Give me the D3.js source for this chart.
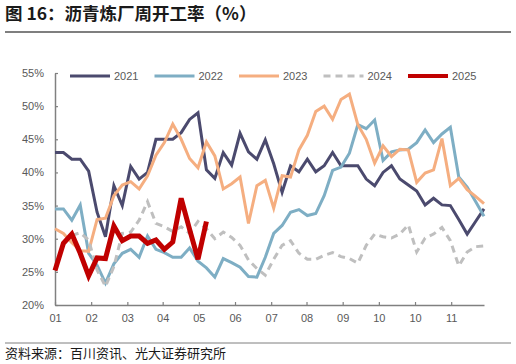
<!DOCTYPE html>
<html>
<head>
<meta charset="utf-8">
<script src="https://cdn.jsdelivr.net/npm/d3@7"></script>
<style>
  body { margin: 0; background: #fff; }
  svg text { font-family: "Liberation Sans", Arial, "Noto Sans CJK SC", sans-serif; }
</style>
</head>
<body>
<div id="chart"></div>
<script>
// weekly values, week index 0..51
const years = ["2021", "2022", "2023", "2024", "2025"];

const v2021 = [43.0, 43.0, 42.0, 42.0, 40.2, 34.0, 30.3, 38.0, 35.0, 40.9, 39.0, 40.0, 45.0, 45.0, 45.0, 46.0,
  48.0, 49.0, 40.4, 39.1, 43.0, 41.1, 45.9, 43.1, 42.0, 44.9, 41.3, 37.0, 41.0, 40.1, 42.0, 40.1,
  41.0, 43.0, 41.0, 41.0, 41.0, 39.0, 38.0, 40.0, 41.0, 39.0, 38.1, 37.2, 35.1, 36.1, 35.1, 35.0,
  32.9, 30.7, 32.6, 34.5];

const v2022 = [34.5, 34.5, 32.8, 35.1, 27.8, 26.0, 23.3, 26.2, 27.8, 28.4, 27.2, 30.4, 28.4, 27.9, 27.2, 27.2,
  28.6, 26.6, 25.6, 24.2, 27.0, 26.4, 25.7, 24.3, 24.2, 27.2, 30.8, 32.0, 34.0, 34.4, 33.5, 33.8,
  36.5, 40.3, 40.8, 42.9, 47.2, 46.6, 47.9, 41.8, 43.1, 43.4, 43.5, 44.5, 46.4, 44.5, 45.8, 46.8,
  39.3, 37.8, 35.6, 33.4];

const v2023 = [31.5, 30.8, 29.4, 28.2, 28.1, 32.9, 33.1, 36.5, 38.1, 38.6, 37.5, 39.5, 42.6, 44.5, 47.3, 45.0,
  42.1, 40.7, 44.6, 42.5, 37.5, 38.3, 39.3, 32.3, 38.0, 38.8, 34.6, 39.5, 39.3, 43.4, 45.6, 49.2,
  50.0, 48.0, 51.0, 51.8, 47.2, 45.0, 41.4, 44.0, 42.4, 43.5, 43.4, 38.5, 39.9, 40.4, 45.1, 38.0,
  39.1, 37.4, 36.4, 35.3];

const v2024 = [null, null, 30.5, 30.9, 29.8, 25.3, 22.8, 25.8, 30.8, 31.0, 32.8, 35.6, 32.3, 31.8, 31.1, 31.8,
  30.8, 32.6, 31.5, 30.0, 31.0, 30.2, 29.0, 26.8, 25.5, 24.5, 26.9, 29.0, 29.7, 27.8, 26.9, 26.9,
  27.5, 27.9, 27.3, 27.0, 26.3, 29.0, 30.7, 30.3, 30.1, 30.7, 32.1, 28.0, 30.1, 30.7, 31.7, 29.7,
  25.9, 28.0, 28.8, 28.9];

const v2025 = [25.2, 29.3, 30.7, 27.8, 24.4, 27.1, 27.0, 31.9, 29.7, 30.4, 30.4, 29.3, 29.8, 28.4, 29.5, 36.1,
  31.4, 26.9, 32.6];

const yTicks = [20, 25, 30, 35, 40, 45, 50, 55];
const tickWeeks = [0, 4.3, 8.6, 12.8, 17.1, 21.4, 25.7, 29.9, 34.2, 38.5, 42.8, 47.1];
const tickLabels = ["01", "02", "03", "04", "05", "06", "07", "08", "09", "10", "10", "11"];

const series = [
  { name: "2021", values: v2021, color: "#4b4a6e", width: 3, dash: null },
  { name: "2022", values: v2022, color: "#7eaec4", width: 3, dash: null },
  { name: "2023", values: v2023, color: "#f5ae80", width: 3, dash: null },
  { name: "2024", values: v2024, color: "#bfbfbf", width: 3, dash: "7,5" },
  { name: "2025", values: v2025, color: "#c00000", width: 5, dash: null }
];

const W = 516, H = 364;
const plot = { left: 55, right: 484, top: 73, bottom: 305 };

const svg = d3.select("#chart").append("svg")
    .attr("width", W)
    .attr("height", H);

// title + rule
svg.append("text")
    .attr("x", 5)
    .attr("y", 20)
    .attr("font-size", "17.5px")
    .attr("font-weight", "bold")
    .attr("fill", "#1a1a1a")
    .style("font-family", "'Noto Sans CJK SC', sans-serif")
    .text("图 16：沥青炼厂周开工率（%）");

svg.append("line")
    .attr("x1", 5).attr("x2", 511)
    .attr("y1", 32).attr("y2", 32)
    .attr("stroke", "#7f7f7f")
    .attr("stroke-width", 2);

// source
svg.append("line")
    .attr("x1", 5).attr("x2", 511)
    .attr("y1", 343).attr("y2", 343)
    .attr("stroke", "#7f7f7f")
    .attr("stroke-width", 1);

svg.append("text")
    .attr("x", 5)
    .attr("y", 358)
    .attr("font-size", "13px")
    .attr("fill", "#1a1a1a")
    .style("font-family", "'Noto Sans CJK SC', sans-serif")
    .text("资料来源：百川资讯、光大证券研究所");

// scales
const x = d3.scaleLinear().domain([0, 51]).range([plot.left, plot.right]);
const y = d3.scaleLinear().domain([20, 55]).range([plot.bottom, plot.top]);

const yAxis = d3.axisLeft(y)
    .tickValues(yTicks)
    .tickFormat(d => d + "%")
    .tickSizeInner(-3)
    .tickSizeOuter(0)
    .tickPadding(11);

const xAxis = d3.axisBottom(x)
    .tickValues(tickWeeks)
    .tickFormat((d, i) => tickLabels[i])
    .tickSizeInner(-3)
    .tickSizeOuter(0)
    .tickPadding(9);

const gy = svg.append("g")
    .attr("transform", "translate(" + plot.left + ",0)")
    .call(yAxis);

const gx = svg.append("g")
    .attr("transform", "translate(0," + plot.bottom + ")")
    .call(xAxis);

[gx, gy].forEach(g => {
  g.select(".domain").attr("stroke", "#808080").attr("stroke-width", 1.5);
  g.selectAll(".tick line").attr("stroke", "#808080").attr("stroke-width", 1.2);
  g.selectAll(".tick text")
      .attr("fill", "#595959")
      .attr("font-size", "11px")
      .style("font-family", "'Liberation Sans', Arial, sans-serif");
});

// lines
const line = d3.line()
    .defined(d => d != null)
    .x((d, i) => x(i))
    .y(d => y(d));

series.forEach(s => {
  svg.append("path")
      .datum(s.values)
      .attr("fill", "none")
      .attr("stroke", s.color)
      .attr("stroke-width", s.width)
      .attr("stroke-linejoin", "miter")
      .attr("stroke-dasharray", s.dash)
      .attr("d", line);
});

// legend
const legend = svg.append("g")
    .attr("transform", "translate(70,76)");

series.forEach((s, i) => {
  const gItem = legend.append("g")
      .attr("transform", "translate(" + (i * 84.5) + ",0)");
  gItem.append("line")
      .attr("x1", 0).attr("x2", 40)
      .attr("y1", 0).attr("y2", 0)
      .attr("stroke", s.color)
      .attr("stroke-width", s.name === "2025" ? 4 : 3)
      .attr("stroke-dasharray", s.dash);
  gItem.append("text")
      .attr("x", 44)
      .attr("y", 0)
      .attr("dy", "0.35em")
      .attr("font-size", "11px")
      .attr("fill", "#595959")
      .text(s.name);
});
</script>
</body>
</html>
